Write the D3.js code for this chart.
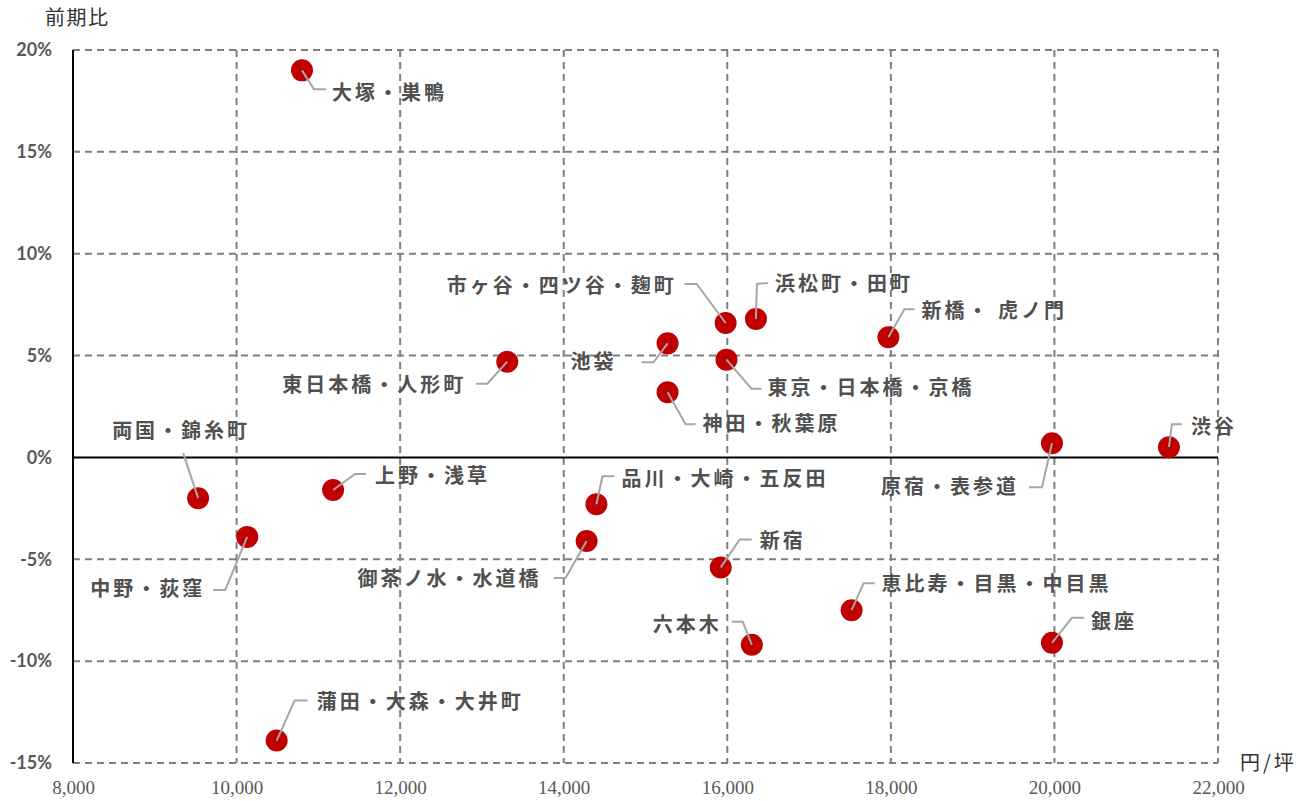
<!DOCTYPE html>
<html>
<head>
<meta charset="utf-8">
<script src="https://cdn.jsdelivr.net/npm/d3@7"></script>
<style>
  body { margin: 0; background: #fff; }
  svg { display: block; }
</style>
</head>
<body>
<div id="chart"></div>
<script>
// データ（エリア・賃料・前期比）
const areas = [
  "大塚・巣鴨", "市ヶ谷・四ツ谷・麹町", "浜松町・田町", "新橋・ 虎ノ門", "池袋",
  "東日本橋・人形町", "東京・日本橋・京橋", "神田・秋葉原", "原宿・表参道", "渋谷",
  "両国・錦糸町", "上野・浅草", "品川・大崎・五反田", "中野・荻窪", "御茶ノ水・水道橋",
  "新宿", "恵比寿・目黒・中目黒", "六本木", "銀座", "蒲田・大森・大井町"
];
const rent = [
  10800, 15980, 16350, 17970, 15270,
  13310, 15990, 15270, 19970, 21400,
  9530, 11180, 14400, 10130, 14280,
  15920, 17520, 16300, 19970, 10490
];
const change = [
  19.0, 6.6, 6.8, 5.9, 5.6,
  4.7, 4.8, 3.2, 0.7, 0.5,
  -2.0, -1.6, -2.3, -3.9, -4.1,
  -5.4, -7.5, -9.2, -9.1, -13.9
];
const xTicks = [8000, 10000, 12000, 14000, 16000, 18000, 20000, 22000];
const yTicks = [-15, -10, -5, 0, 5, 10, 15, 20];

// ラベルの置き方（点からのずれ）: テキスト位置, 寄せ, 引出線の端, 折れ点
const labelPos = [
  [30, 21, "start", 24, 19, 12, 19],
  [-49, -38, "end", -41, -39, -29, -39],
  [19, -36, "start", 12, -36, 1, -35],
  [33, -28, "start", 26, -28, 16, -28],
  [-51, 17, "end", -26, 19, -14, 19],
  [-41, 22, "end", -31, 22, -20, 22],
  [41, 27, "start", 35, 29, 25, 29],
  [35, 30, "start", 28, 32, 18, 32],
  [-33, 42, "end", -23, 44, -10, 44],
  [22, -22, "start", 13, -23, 3, -23],
  [-17, -69, "middle", -15, -45, -15, -45],
  [42, -16, "start", 33, -16, 22, -16],
  [25, -27, "start", 18, -28, 6, -28],
  [-42, 51, "end", -34, 53, -22, 53],
  [-45, 37, "end", -33, 37, -21, 37],
  [39, -28, "start", 31, -28, 19, -28],
  [30, -28, "start", 23, -27, 12, -27],
  [-30, -21, "end", -20, -23, -9, -23],
  [39, -22, "start", 32, -25, 20, -25],
  [40, -40, "start", 31, -40, 18, -40]
];

const width = 1311, height = 801;
const margin = { top: 50, right: 93, bottom: 38, left: 73 };

const svg = d3.select("#chart")
  .append("svg")
  .attr("width", width)
  .attr("height", height);

const x = d3.scaleLinear()
  .domain([8000, 22000])
  .range([margin.left, width - margin.right]);

const y = d3.scaleLinear()
  .domain([-15, 20])
  .range([height - margin.bottom, margin.top]);

const gridColor = "#7f7f7f";

// 横のグリッド（0%以外は破線）
svg.append("g")
  .selectAll("line")
  .data(yTicks.filter(d => d !== 0))
  .enter()
  .append("line")
  .attr("x1", x(8000))
  .attr("x2", x(22000))
  .attr("y1", d => y(d))
  .attr("y2", d => y(d))
  .attr("stroke", gridColor)
  .attr("stroke-width", 2)
  .attr("stroke-dasharray", "7,5");

// 縦のグリッド
svg.append("g")
  .selectAll("line")
  .data(xTicks.slice(1))
  .enter()
  .append("line")
  .attr("x1", d => x(d))
  .attr("x2", d => x(d))
  .attr("y1", y(20))
  .attr("y2", y(-15))
  .attr("stroke", gridColor)
  .attr("stroke-width", 2)
  .attr("stroke-dasharray", "7,5");

// 軸の線
svg.append("line")
  .attr("x1", x(8000)).attr("x2", x(8000))
  .attr("y1", y(20)).attr("y2", y(-15))
  .attr("stroke", "#000").attr("stroke-width", 2);

svg.append("line")
  .attr("x1", x(8000)).attr("x2", x(22000))
  .attr("y1", y(0)).attr("y2", y(0))
  .attr("stroke", "#000").attr("stroke-width", 2);

// 目盛りラベル
const xAxis = d3.axisBottom(x)
  .tickValues(xTicks)
  .tickFormat(d3.format(","))
  .tickSize(0)
  .tickPadding(18);

svg.append("g")
  .attr("transform", "translate(0," + y(-15) + ")")
  .call(xAxis)
  .call(g => g.select(".domain").remove())
  .selectAll("text")
  .attr("font-family", "'Liberation Serif', 'DejaVu Serif', serif")
  .attr("font-size", 19)
  .attr("fill", "#595959");

const yAxis = d3.axisLeft(y)
  .tickValues(yTicks)
  .tickFormat(d => d + "%")
  .tickSize(0)
  .tickPadding(21);

svg.append("g")
  .attr("transform", "translate(" + x(8000) + ",0)")
  .call(yAxis)
  .call(g => g.select(".domain").remove())
  .selectAll("text")
  .attr("font-family", "Lato, 'Open Sans', sans-serif")
  .attr("font-weight", "bold")
  .attr("font-size", 18)
  .attr("fill", "#595959");

// 軸タイトル
svg.append("text")
  .attr("x", 45)
  .attr("y", 25)
  .attr("font-family", "'Noto Sans CJK JP', sans-serif")
  .attr("font-size", 20)
  .attr("letter-spacing", 1.5)
  .attr("fill", "#333")
  .text("前期比");

svg.append("text")
  .attr("x", 1240)
  .attr("y", 770)
  .attr("font-family", "'Noto Sans CJK JP', sans-serif")
  .attr("font-size", 20)
  .attr("letter-spacing", 3)
  .attr("fill", "#333")
  .text("円/坪");

// 点
const pts = areas.map((name, i) => ({
  name: name,
  cx: x(rent[i]),
  cy: y(change[i]),
  lp: labelPos[i]
}));

svg.append("g")
  .selectAll("circle")
  .data(pts)
  .enter()
  .append("circle")
  .attr("cx", d => d.cx)
  .attr("cy", d => d.cy)
  .attr("r", 11)
  .attr("fill", "#c00000");

// 引出線
svg.append("g")
  .selectAll("polyline")
  .data(pts)
  .enter()
  .append("polyline")
  .attr("points", d =>
    [[d.cx + d.lp[3], d.cy + d.lp[4]], [d.cx + d.lp[5], d.cy + d.lp[6]], [d.cx, d.cy]]
      .map(p => p.join(",")).join(" "))
  .attr("fill", "none")
  .attr("stroke", "#a6a6a6")
  .attr("stroke-width", 2);

// ラベル
svg.append("g")
  .selectAll("text")
  .data(pts)
  .enter()
  .append("text")
  .attr("x", d => d.cx + d.lp[0])
  .attr("y", d => d.cy + d.lp[1])
  .attr("text-anchor", d => d.lp[2])
  .attr("dominant-baseline", "central")
  .attr("font-family", "'Noto Sans CJK JP', sans-serif")
  .attr("font-weight", "bold")
  .attr("font-size", 20)
  .attr("letter-spacing", 3)
  .attr("fill", "#505050")
  .text(d => d.name);
</script>
</body>
</html>
